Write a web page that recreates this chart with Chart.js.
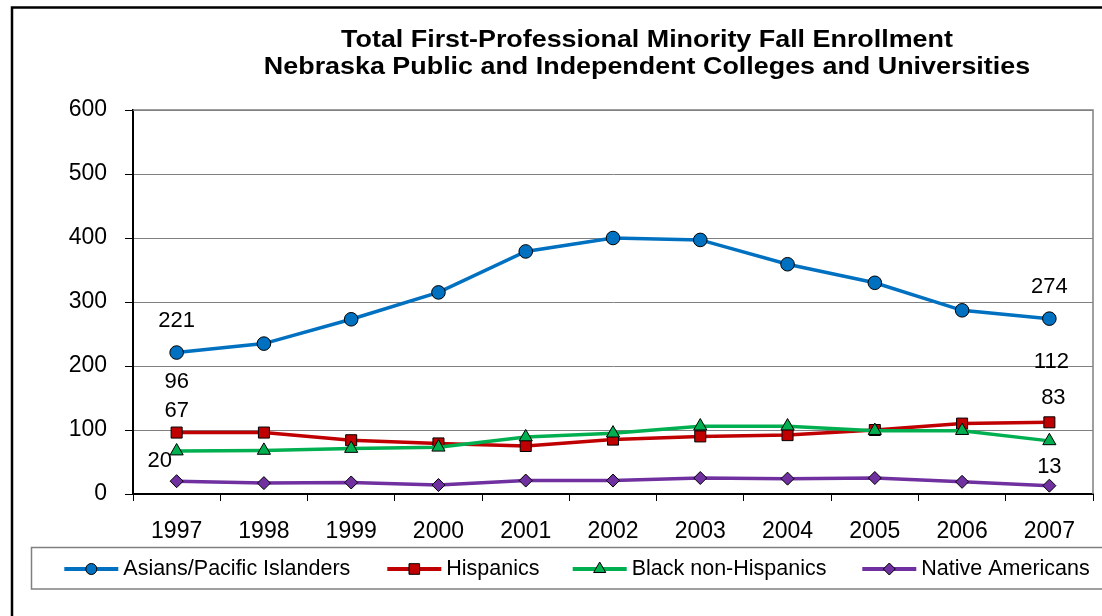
<!DOCTYPE html>
<html>
<head>
<meta charset="utf-8">
<script src="https://cdn.jsdelivr.net/npm/chart.js@4.4.1/dist/chart.umd.min.js"></script>
<style>
html,body{margin:0;padding:0;background:#fff;}
canvas{display:block;}
</style>
</head>
<body>
<canvas id="c" width="1102" height="616"></canvas>
<script>
// ---- data ----
const years = ['1997','1998','1999','2000','2001','2002','2003','2004','2005','2006','2007'];
const asians = [221, 235, 273, 315, 379, 400, 397, 359, 330, 287, 274];
const hispanics = [96, 96, 84, 79, 75, 85, 90, 92, 100, 110, 112];
const blacks = [67, 68, 71, 73, 89, 95, 106, 106, 99, 99, 83];
const natives = [20, 17, 18, 14, 21, 21, 25, 24, 25, 19, 13];
const seriesNames = ['Asians/Pacific Islanders', 'Hispanics', 'Black non-Hispanics', 'Native Americans'];
const titleLines = ['Total First-Professional Minority Fall Enrollment', 'Nebraska Public and Independent Colleges and Universities'];
const yMin = 0, yMax = 600, yStep = 100;

const FONT = '"Liberation Sans", Arial, Helvetica, sans-serif';

function drawMarker(ctx, style, x, y, r, fill) {
  ctx.save();
  ctx.fillStyle = fill;
  ctx.strokeStyle = '#000';
  ctx.lineWidth = 1;
  ctx.beginPath();
  if (style === 'circle') {
    ctx.arc(x, y, r, 0, Math.PI * 2);
  } else if (style === 'rect') {
    const s = r * Math.SQRT1_2;
    ctx.rect(x - s, y - s, 2 * s, 2 * s);
  } else if (style === 'triangle') {
    for (let k = 0; k < 3; k++) {
      const a = k * 2 * Math.PI / 3;
      const px = x + Math.sin(a) * r, py = y - Math.cos(a) * r;
      if (k === 0) ctx.moveTo(px, py); else ctx.lineTo(px, py);
    }
    ctx.closePath();
  } else {
    ctx.moveTo(x, y - r); ctx.lineTo(x + r, y); ctx.lineTo(x, y + r); ctx.lineTo(x - r, y);
    ctx.closePath();
  }
  ctx.fill();
  ctx.stroke();
  ctx.restore();
}

const decor = {
  id: 'decor',
  beforeDraw(chart) {
    const ctx = chart.ctx;
    ctx.save();
    ctx.fillStyle = '#fff';
    ctx.fillRect(0, 0, chart.width, chart.height);
    ctx.restore();
  },
  afterDatasetsDraw(chart, args, opts) {
    const ctx = chart.ctx;
    ctx.save();
    ctx.font = '22px ' + FONT;
    ctx.fillStyle = '#000';
    ctx.textAlign = 'center';
    ctx.textBaseline = 'middle';
    chart.data.datasets.forEach((ds, i) => {
      const meta = chart.getDatasetMeta(i);
      const off = opts.labelOffsets[i];
      const first = meta.data[0], last = meta.data[meta.data.length - 1];
      ctx.fillText(String(ds.data[0]), first.x + off[0], first.y + off[1]);
      ctx.fillText(String(ds.data[ds.data.length - 1]), last.x + off[2], last.y + off[3]);
    });
    ctx.restore();
  },
  afterDraw(chart, args, opts) {
    const ctx = chart.ctx;
    const ca = chart.chartArea;
    ctx.save();
    // plot area border (top/right)
    ctx.strokeStyle = '#808080';
    ctx.lineWidth = 1.5;
    ctx.beginPath();
    ctx.moveTo(ca.left, ca.top);
    ctx.lineTo(ca.right, ca.top);
    ctx.lineTo(ca.right, ca.bottom);
    ctx.stroke();
    // outer frame
    ctx.strokeStyle = '#000';
    ctx.lineWidth = 2.5;
    ctx.strokeRect(12, 7.5, 1200, 800);
    // title
    ctx.fillStyle = '#000';
    ctx.font = 'bold 24px ' + FONT;
    ctx.textAlign = 'center';
    ctx.textBaseline = 'alphabetic';
    [47, 74].forEach((by, i) => {
      ctx.save();
      ctx.translate(647, by);
      ctx.scale(1.12, 1);
      ctx.fillText(titleLines[i], 0, 0);
      ctx.restore();
    });
    // legend box
    ctx.strokeStyle = '#808080';
    ctx.lineWidth = 1.5;
    ctx.strokeRect(31.5, 547.5, 1100, 41.5);
    // legend items
    const ly = 569;
    ctx.font = '21.5px ' + FONT;
    ctx.textAlign = 'left';
    ctx.textBaseline = 'middle';
    chart.data.datasets.forEach((ds, i) => {
      const x0 = opts.legendX[i];
      ctx.strokeStyle = ds.borderColor;
      ctx.lineWidth = 4;
      ctx.beginPath();
      ctx.moveTo(x0, ly);
      ctx.lineTo(x0 + 54, ly);
      ctx.stroke();
      drawMarker(ctx, ds.pointStyle, x0 + 27, ly, opts.legendR[i], ds.backgroundColor);
      ctx.fillStyle = '#000';
      ctx.fillText(ds.label, x0 + 59, ly);
    });
    ctx.restore();
  }
};

const colors = ['#0070C0', '#C00000', '#00B050', '#7030A0'];
const styles = ['circle', 'rect', 'triangle', 'rectRot'];
const radii = [6.8, 7.8, 7.6, 6.5];
const allSeries = [asians, hispanics, blacks, natives];

const datasets = allSeries.map((vals, i) => ({
  label: seriesNames[i],
  data: vals,
  borderColor: colors[i],
  backgroundColor: colors[i],
  borderWidth: 3.5,
  tension: 0,
  pointStyle: styles[i],
  pointRadius: radii[i],
  pointHoverRadius: radii[i],
  pointBackgroundColor: colors[i],
  pointBorderColor: '#000',
  pointBorderWidth: 1,
  order: 4 - i,
  clip: false
}));

new Chart(document.getElementById('c'), {
  type: 'line',
  data: { labels: years, datasets },
  plugins: [decor],
  options: {
    responsive: false,
    animation: false,
    devicePixelRatio: 1,
    layout: { padding: { top: 110, right: 9, left: 0, bottom: 0 } },
    plugins: {
      legend: { display: false },
      title: { display: false },
      tooltip: { enabled: false },
      decor: {
        labelOffsets: [[0, -32, 0, -32], [0, -51, 2, -60], [0, -40, 4, -43], [-17, -20, 0, -19]],
        legendX: [64.3, 387.3, 572.7, 862.3],
        legendR: [5.5, 7.5, 7, 6]
      }
    },
    scales: {
      x: {
        offset: true,
        afterFit(s) { s.height = 122; },
        grid: { offset: true, drawOnChartArea: false, drawTicks: true, tickLength: 7, color: '#000', tickColor: '#000', lineWidth: 1 },
        border: { display: true, color: '#000', width: 2 },
        ticks: { font: { family: FONT, size: 23 }, color: '#000', padding: 17, maxRotation: 0, autoSkip: false }
      },
      y: {
        min: yMin, max: yMax,
        afterFit(s) { s.width = 133; },
        grid: { color: '#808080', lineWidth: 1, tickColor: '#000', tickLength: 8, drawTicks: true },
        border: { display: true, color: '#000', width: 2 },
        ticks: { stepSize: yStep, font: { family: FONT, size: 23 }, color: '#000', padding: 18 }
      }
    }
  }
});
</script>
</body>
</html>
